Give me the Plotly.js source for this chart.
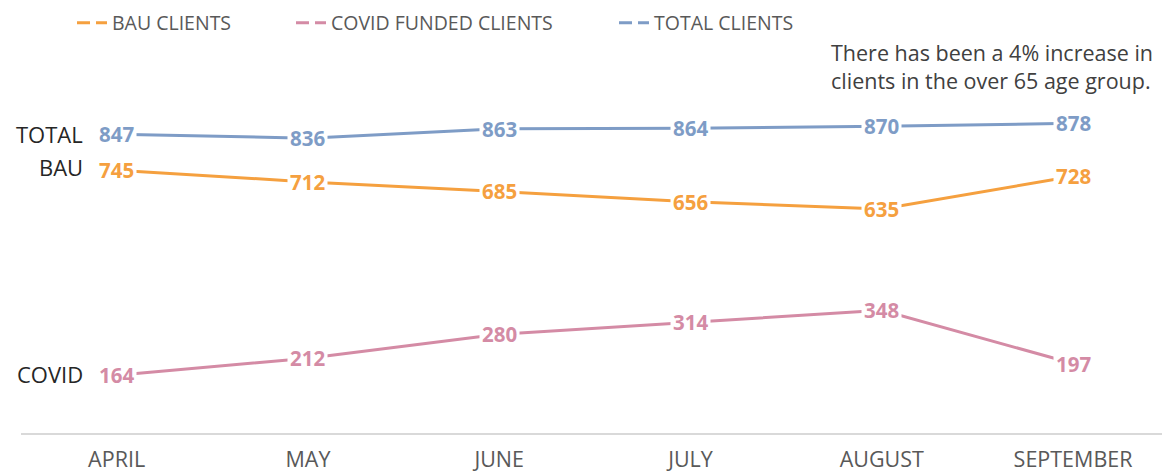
<!DOCTYPE html>
<html>
<head>
<meta charset="utf-8">
<script src="https://cdn.plot.ly/plotly-3.0.1.min.js"></script>
<style>
html,body{margin:0;padding:0;background:#fff;}
#chart{width:1162px;height:475px;}
</style>
</head>
<body>
<div id="chart"></div>
<script>
// ---- data ----
var months = ['APRIL', 'MAY', 'JUNE', 'JULY', 'AUGUST', 'SEPTEMBER'];
var bauClients = [745, 712, 685, 656, 635, 728];
var covidClients = [164, 212, 280, 314, 348, 197];
var totalClients = [847, 836, 863, 864, 870, 878];
var seriesNames = ['BAU CLIENTS', 'COVID FUNDED CLIENTS', 'TOTAL CLIENTS'];
var sideLabels = ['BAU', 'COVID', 'TOTAL'];
var noteText = 'There has been a 4% increase in<br>clients in the over 65 age group.';

var FONT = 'Open Sans, Noto Sans, sans-serif';
var colors = ['#F5A03F', '#D48BA5', '#7E9CC6'];
var series = [bauClients, covidClients, totalClients];
var legendIds = ['legend', 'legend2', 'legend3'];

var traces = [];
var annotations = [];

series.forEach(function (vals, i) {
  // real line
  traces.push({
    x: months, y: vals, type: 'scatter', mode: 'lines',
    line: {color: colors[i], width: 3},
    showlegend: false, hoverinfo: 'skip', cliponaxis: false
  });
  // legend-only entry (dashed symbol)
  traces.push({
    x: [months[0]], y: [null], type: 'scatter', mode: 'lines',
    line: {color: colors[i], width: 3, dash: '13px,6px'},
    name: seriesNames[i], legend: legendIds[i], showlegend: true, hoverinfo: 'skip'
  });
  // value labels
  vals.forEach(function (v, j) {
    annotations.push({
      x: months[j], y: v, xref: 'x', yref: 'y',
      text: String(v), showarrow: false,
      xanchor: 'center', yanchor: 'middle',
      bgcolor: '#ffffff', borderpad: 2,
      font: {family: FONT, size: 20.5, color: colors[i], weight: 'bold'}
    });
  });
});

// side labels (TOTAL / BAU / COVID)
var sideY = [bauClients[0], covidClients[0], totalClients[0]];
var sideShift = [3, 1, 0];
sideLabels.forEach(function (t, i) {
  annotations.push({
    x: 0.056, xref: 'paper', y: sideY[i], yref: 'y', yshift: sideShift[i],
    text: t, showarrow: false, xanchor: 'right', yanchor: 'middle',
    font: {family: FONT, size: 22, color: '#262626'}
  });
});

// note
annotations.push({
  x: 0.708, xref: 'paper', y: 0.958, yref: 'paper',
  text: noteText, showarrow: false, xanchor: 'left', yanchor: 'middle', align: 'left',
  font: {family: FONT, size: 21.5, color: '#404040'}
});

function legendAt(px) {
  return {
    orientation: 'h', x: (px - 21) / 1141, xanchor: 'left',
    y: 1.07, yanchor: 'middle', bgcolor: 'rgba(0,0,0,0)', borderwidth: 0,
    font: {family: FONT, size: 19.5, color: '#595959'}
  };
}

var layout = {
  width: 1162, height: 475,
  margin: {l: 21, r: 0, t: 50, b: 42},
  paper_bgcolor: '#ffffff', plot_bgcolor: '#ffffff',
  showlegend: true,
  legend: legendAt(72),
  legend2: legendAt(291),
  legend3: legendAt(614),
  xaxis: {
    type: 'category', range: [-0.5, 5.465],
    showline: true, linecolor: '#d9d9d9', linewidth: 2,
    showgrid: false, zeroline: false, ticks: '',
    ticklabelstandoff: 6,
    tickfont: {family: FONT, size: 21.5, color: '#595959'},
    fixedrange: true
  },
  yaxis: {
    range: [0, 1086], visible: false, showgrid: false, zeroline: false, fixedrange: true
  },
  annotations: annotations,
  hovermode: false
};

Plotly.newPlot('chart', traces, layout, {displayModeBar: false, staticPlot: true});
</script>
</body>
</html>
